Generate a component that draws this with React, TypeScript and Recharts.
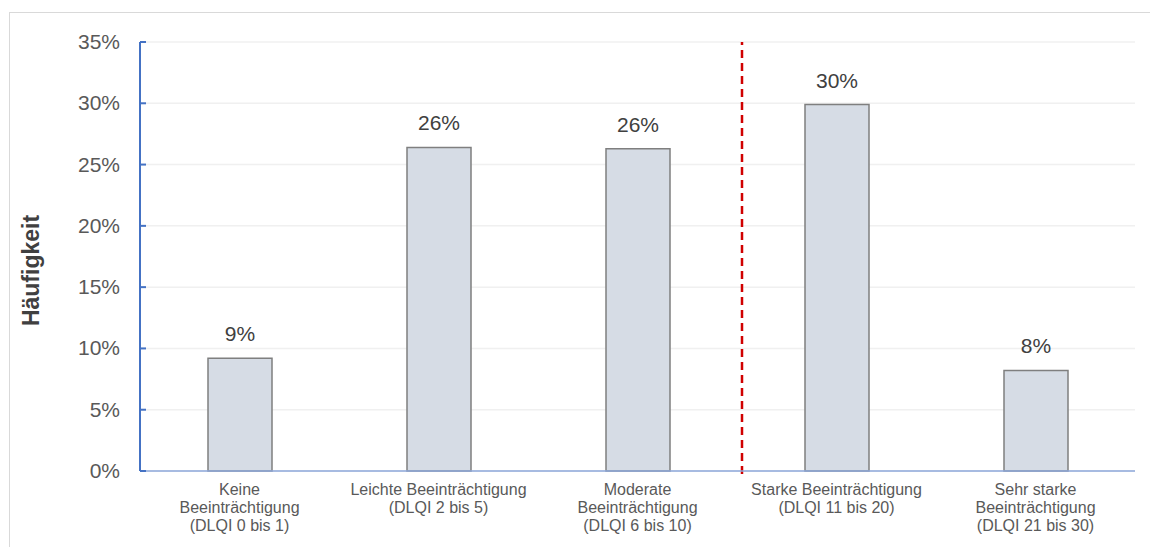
import {
  Bar,
  BarChart,
  CartesianGrid,
  LabelList,
  ReferenceLine,
  XAxis,
  YAxis,
} from "recharts";

const categories = [
  "Keine Beeinträchtigung (DLQI 0 bis 1)",
  "Leichte Beeinträchtigung (DLQI 2 bis 5)",
  "Moderate Beeinträchtigung (DLQI 6 bis 10)",
  "Starke Beeinträchtigung (DLQI 11 bis 20)",
  "Sehr starke Beeinträchtigung (DLQI 21 bis 30)",
];

// tick label lines as wrapped in the original
const tickLines = [
  ["Keine", "Beeinträchtigung", "(DLQI 0 bis 1)"],
  ["Leichte Beeinträchtigung", "(DLQI 2 bis 5)"],
  ["Moderate", "Beeinträchtigung", "(DLQI 6 bis 10)"],
  ["Starke Beeinträchtigung", "(DLQI 11 bis 20)"],
  ["Sehr starke", "Beeinträchtigung", "(DLQI 21 bis 30)"],
];

const shares = [0.092, 0.264, 0.263, 0.299, 0.082];
const yTicks = [0, 0.05, 0.1, 0.15, 0.2, 0.25, 0.3, 0.35];

// dashed separator sits just before this category
const dividerBefore = categories[3];

const data = categories.map((name, i) => ({ name, share: shares[i] }));

const W = 1150;
const H = 547;
const margin = { top: 42, right: 15, bottom: 0, left: 0 };
const yAxisW = 140;
const band = (W - margin.left - margin.right - yAxisW) / categories.length;

const font = "Arial, 'Liberation Sans', sans-serif";

const pct = (v: number) => `${Math.round(v * 100)}%`;

const XTick = (props: any) => {
  const { x, y, payload } = props;
  const lines = tickLines[payload.index] ?? [payload.value];
  return (
    <text
      x={x}
      y={y}
      textAnchor="middle"
      fill="#595959"
      fontSize={16}
      fontFamily={font}
    >
      {lines.map((l: string, i: number) => (
        <tspan key={i} x={x} dy={i === 0 ? 14 : 18}>
          {l}
        </tspan>
      ))}
    </text>
  );
};

const YTick = (props: any) => {
  const { x, y, payload } = props;
  return (
    <g>
      <line x1={x + 20} x2={x + 26} y1={y} y2={y} stroke="#4472C4" strokeWidth={2} />
      <text
        x={x}
        y={y}
        dy={7}
        textAnchor="end"
        fill="#595959"
        fontSize={21}
        fontFamily={font}
      >
        {pct(payload.value)}
      </text>
    </g>
  );
};

const YLabel = (props: any) => {
  const { viewBox } = props;
  const cx = viewBox.x + 31;
  const cy = viewBox.y + viewBox.height / 2 + 14;
  return (
    <text
      x={cx}
      y={cy}
      transform={`rotate(-90 ${cx} ${cy})`}
      textAnchor="middle"
      dominantBaseline="central"
      fill="#404040"
      fontSize={23}
      fontWeight="bold"
      fontFamily={font}
    >
      Häufigkeit
    </text>
  );
};

// shift the line from the category centre to the gap before it
const Divider = (props: any) => {
  const { x1, y1, y2 } = props;
  const x = Math.round(x1 - band / 2 + 5);
  return (
    <line
      x1={x}
      x2={x}
      y1={y1 + 3}
      y2={y2}
      stroke="#D00000"
      strokeWidth={2.5}
      strokeDasharray="8 5"
    />
  );
};

export default function App() {
  return (
    <div
      style={{
        position: "absolute",
        left: 0,
        top: 0,
        width: W,
        height: H,
        background: "#fff",
        overflow: "hidden",
      }}
    >
      <div
        style={{
          position: "absolute",
          left: 9,
          top: 12,
          width: 1160,
          height: 560,
          border: "1.5px solid #D9D9D9",
        }}
      />
      <BarChart
        width={W}
        height={H}
        data={data}
        margin={margin}
        barSize={64}
        style={{ position: "absolute", left: 0, top: 0 }}
      >
        <CartesianGrid vertical={false} stroke="#F0F0F0" strokeWidth={1.5} />
        <XAxis
          dataKey="name"
          height={76}
          interval={0}
          tick={<XTick />}
          tickLine={false}
          axisLine={{ stroke: "#8EA9DB", strokeWidth: 1.5 }}
          tickMargin={4}
        />
        <YAxis
          width={yAxisW}
          domain={[0, 0.35]}
          ticks={yTicks}
          interval={0}
          tick={<YTick />}
          tickLine={false}
          tickSize={0}
          tickMargin={20}
          axisLine={{ stroke: "#4472C4", strokeWidth: 2 }}
          label={<YLabel />}
        />
        <Bar
          dataKey="share"
          fill="#D6DCE5"
          stroke="#7F7F7F"
          strokeWidth={1.5}
          isAnimationActive={false}
        >
          <LabelList
            dataKey="share"
            position="top"
            offset={17}
            formatter={(v: any) => pct(Number(v))}
            fill="#404040"
            fontSize={21}
            fontFamily={font}
          />
        </Bar>
        <ReferenceLine x={dividerBefore} shape={<Divider />} />
      </BarChart>
    </div>
  );
}
